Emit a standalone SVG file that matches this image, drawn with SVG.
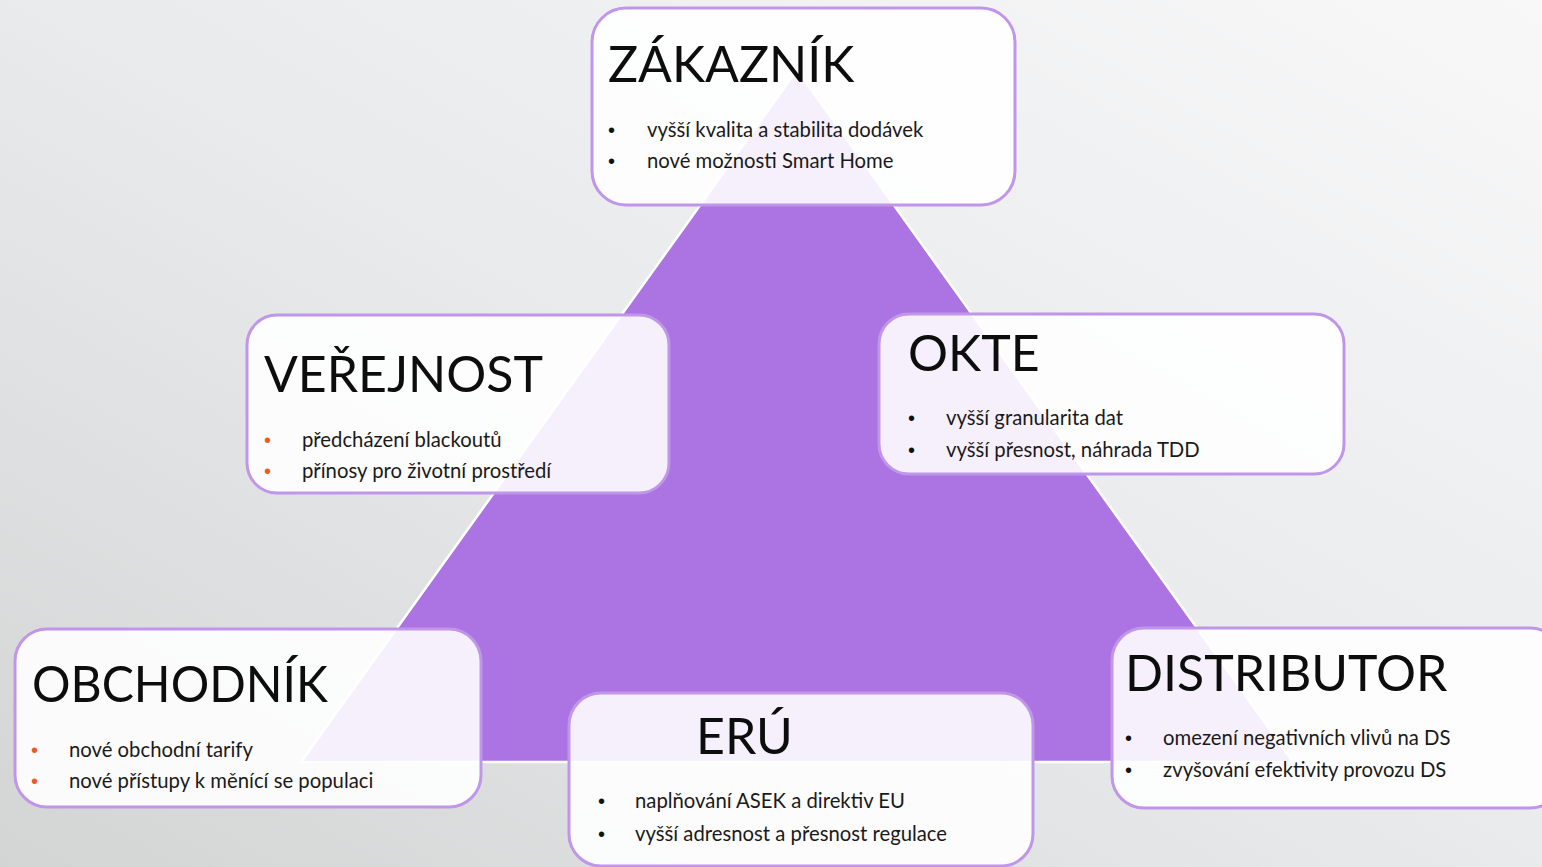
<svg xmlns="http://www.w3.org/2000/svg" width="1542" height="867" viewBox="0 0 1542 867">
<defs>
<linearGradient id="bg" x1="0" y1="1" x2="1" y2="0">
<stop offset="0" stop-color="#d3d5d5"/>
<stop offset="0.5" stop-color="#e9eaeb"/>
<stop offset="1" stop-color="#f8f8f9"/>
</linearGradient>
<style>
.box{fill:#ffffff;fill-opacity:0.89;stroke:#c096ea;stroke-width:3}
.title{font-family:Lato,"Liberation Sans",sans-serif;font-size:50px;fill:#0d0d0d}
.item{font-family:Lato,"Liberation Sans",sans-serif;font-size:20.3px;fill:#1a1a1a}
.dot{font-family:"Liberation Sans",sans-serif;font-size:20px;fill:#111}
.dot.o{fill:#ee5a1e}
</style>
</defs>
<rect x="0" y="0" width="1542" height="867" fill="url(#bg)"/>
<polygon id="triangle" points="797,70 1293,762 301,762" fill="#ab74e2" stroke="#ffffff" stroke-width="2.5" stroke-linejoin="miter"/>

<g id="zakaznik">
<rect class="box" x="592" y="8" width="423" height="197" rx="34"/>
<text class="title" x="608" y="82">ZÁKAZNÍK</text>
<text class="dot" x="608" y="137">•</text>
<text class="item" x="647" y="137">vyšší kvalita a stabilita dodávek</text>
<text class="dot" x="608" y="168">•</text>
<text class="item" x="647" y="168">nové možnosti Smart Home</text>
</g>

<g id="verejnost">
<rect class="box" x="247" y="315" width="422" height="178" rx="30"/>
<text class="title" x="264" y="392">VEŘEJNOST</text>
<text class="dot o" x="264" y="447">•</text>
<text class="item" x="302" y="447">předcházení blackoutů</text>
<text class="dot o" x="264" y="478">•</text>
<text class="item" x="302" y="478">přínosy pro životní prostředí</text>
</g>

<g id="okte">
<rect class="box" x="879" y="314" width="465" height="160" rx="30"/>
<text class="title" x="908" y="371">OKTE</text>
<text class="dot" x="908" y="425">•</text>
<text class="item" x="946" y="425">vyšší granularita dat</text>
<text class="dot" x="908" y="457">•</text>
<text class="item" x="946" y="457">vyšší přesnost, náhrada TDD</text>
</g>

<g id="obchodnik">
<rect class="box" x="15" y="629" width="466" height="178" rx="32"/>
<text class="title" x="32" y="702" textLength="296" lengthAdjust="spacingAndGlyphs">OBCHODNÍK</text>
<text class="dot o" x="31" y="757">•</text>
<text class="item" x="69" y="757">nové obchodní tarify</text>
<text class="dot o" x="31" y="788">•</text>
<text class="item" x="69" y="788">nové přístupy k měnící se populaci</text>
</g>

<g id="eru">
<rect class="box" x="569" y="693" width="464" height="173" rx="32"/>
<text class="title" x="696" y="754">ERÚ</text>
<text class="dot" x="598" y="808">•</text>
<text class="item" x="635" y="808">naplňování ASEK a direktiv EU</text>
<text class="dot" x="598" y="841">•</text>
<text class="item" x="635" y="841">vyšší adresnost a přesnost regulace</text>
</g>

<g id="distributor">
<rect class="box" x="1112" y="628" width="450" height="180" rx="32"/>
<text class="title" x="1125" y="691">DISTRIBUTOR</text>
<text class="dot" x="1125" y="745">•</text>
<text class="item" x="1163" y="745">omezení negativních vlivů na DS</text>
<text class="dot" x="1125" y="777">•</text>
<text class="item" x="1163" y="777">zvyšování efektivity provozu DS</text>
</g>
</svg>
